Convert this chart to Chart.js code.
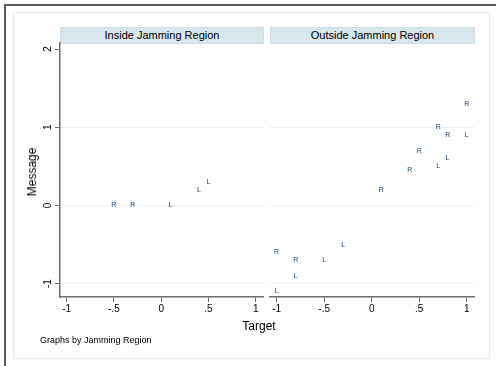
<!DOCTYPE html>
<html>
<head>
<meta charset="utf-8">
<script src="https://cdn.jsdelivr.net/npm/chart.js@4.4.1/dist/chart.umd.min.js"></script>
<style>
  html, body { margin: 0; padding: 0; background: #fff; }
  #wrap { position: relative; width: 496px; height: 366px; overflow: hidden; background: #fff; font-family: "Liberation Sans", Arial, sans-serif; }
  canvas { position: absolute; left: 0; top: 0; }
  .abs { position: absolute; white-space: nowrap; color: #000; }
  #outer { position: absolute; left: 4px; top: 4px; width: 600px; height: 600px; border-left: 2px solid #5a5a5a; border-top: 2px solid #5a5a5a; }
  #inner { position: absolute; left: 13px; top: 12px; width: 475px; height: 345px; border: 1px solid #e4eced; }
  .hdr { position: absolute; top: 27px; height: 15px; background: #d9e6ec; border: 1px solid #cfdee5; font-size: 11px; line-height: 15px; text-align: center; color: #000; }
</style>
</head>
<body>
<div id="wrap">
  <div id="outer"></div>
  <div id="inner"></div>
  <div class="hdr" style="left:60px;width:202px;">Inside Jamming Region</div>
  <div class="hdr" style="left:270px;width:203px;">Outside Jamming Region</div>
  <canvas id="c1" width="496" height="366"></canvas>
  <canvas id="c2" width="496" height="366"></canvas>
  <div class="abs" id="ytitle" style="left:32px;top:172px;font-size:12px;line-height:12px;transform:translate(-50%,-50%) rotate(-90deg);">Message</div>
  <div class="abs" style="left:259px;top:326px;font-size:12px;line-height:12px;transform:translate(-50%,-50%);">Target</div>
  <div class="abs" style="left:40px;top:334px;font-size:9px;line-height:12px;">Graphs by Jamming Region</div>
</div>
<script>
// ---- data ----
const panelTitles = ["Inside Jamming Region", "Outside Jamming Region"];
const insideX = [-0.5, -0.3, 0.1, 0.4, 0.5];
const insideY = [0, 0, 0, 0.2, 0.3];
const insideLabels = ["R", "R", "L", "L", "L"];
const outsideX = [1.0, 0.7, 0.8, 1.0, 0.5, 0.8, 0.7, 0.4, 0.1, -0.3, -1.0, -0.8, -0.5, -0.8, -1.0];
const outsideY = [1.3, 1.0, 0.9, 0.9, 0.7, 0.6, 0.5, 0.45, 0.2, -0.5, -0.6, -0.7, -0.7, -0.9, -1.1];
const outsideLabels = ["R", "R", "R", "L", "R", "L", "L", "R", "R", "L", "R", "R", "L", "L", "L"];
const xTickValues = [-1, -0.5, 0, 0.5, 1];
const xTickLabels = ["-1", "-.5", "0", ".5", "1"];
const yTickValues = [-1, 0, 1, 2];
const yTickLabels = ["-1", "0", "1", "2"];
const gridValues = [-1, 0, 1];

const FONT = '"Liberation Sans", Arial, sans-serif';
const MARK = '#1a476f';

function pts(xs, ys) { return xs.map((x, i) => ({ x: x, y: ys[i] })); }

const markerLabels = {
  id: 'markerLabels',
  afterDatasetsDraw(chart) {
    const ctx = chart.ctx;
    const labels = chart.options.plugins.markerLabels.labels;
    const meta = chart.getDatasetMeta(0);
    ctx.save();
    ctx.fillStyle = MARK;
    ctx.font = '7px ' + FONT;
    ctx.textAlign = 'center';
    ctx.textBaseline = 'middle';
    meta.data.forEach((el, i) => { ctx.fillText(labels[i], el.x, el.y); });
    ctx.restore();
  }
};

const yTickText = {
  id: 'yTickText',
  afterDraw(chart) {
    if (!chart.options.plugins.yTickText.show) return;
    const ctx = chart.ctx;
    const ys = chart.scales.y;
    ctx.save();
    ctx.fillStyle = '#000';
    ctx.font = '10px ' + FONT;
    ctx.textAlign = 'center';
    ctx.textBaseline = 'middle';
    yTickValues.forEach((v, i) => {
      const py = ys.getPixelForValue(v);
      ctx.save();
      ctx.translate(48, py);
      ctx.rotate(-Math.PI / 2);
      ctx.fillText(yTickLabels[i], 0, 0);
      ctx.restore();
    });
    ctx.restore();
  }
};

function makeChart(id, data, labels, left, right, showY) {
  return new Chart(document.getElementById(id), {
    type: 'scatter',
    data: { datasets: [{ data: data, pointRadius: 0, pointHoverRadius: 0, showLine: false }] },
    options: {
      responsive: false,
      animation: false,
      events: [],
      layout: { padding: { left: left, right: right, top: 43, bottom: 39 } },
      plugins: {
        legend: { display: false },
        tooltip: { enabled: false },
        title: { display: false },
        markerLabels: { labels: labels },
        yTickText: { show: showY }
      },
      scales: {
        x: {
          type: 'linear',
          min: -1.07, max: 1.077,
          afterBuildTicks: s => { s.ticks = xTickValues.map(v => ({ value: v })); },
          afterFit: s => { s.height = 30; },
          ticks: {
            display: true,
            padding: 1,
            color: '#000',
            font: { family: FONT, size: 10 },
            maxRotation: 0, minRotation: 0,
            callback: (v) => { const i = xTickValues.indexOf(v); return i >= 0 ? xTickLabels[i] : ''; }
          },
          grid: { drawOnChartArea: false, drawTicks: true, tickLength: 5, tickColor: '#6a6a6a', tickWidth: 1 },
          border: { display: true, color: '#6e6e6e', width: 1.5 }
        },
        y: {
          type: 'linear',
          min: -1.17, max: 2.077,
          afterBuildTicks: s => { s.ticks = yTickValues.map(v => ({ value: v })); },
          ticks: { display: false },
          grid: {
            drawOnChartArea: true,
            drawTicks: showY,
            tickLength: 5,
            tickColor: '#6a6a6a',
            tickWidth: 1,
            lineWidth: 1,
            color: c => (gridValues.indexOf(c.tick && c.tick.value) >= 0 ? '#eaf1f2' : 'rgba(0,0,0,0)')
          },
          border: { display: showY, color: '#6e6e6e', width: 1.5 }
        }
      }
    },
    plugins: [markerLabels, yTickText]
  });
}

makeChart('c1', pts(insideX, insideY), insideLabels, 55, 233, true);
makeChart('c2', pts(outsideX, outsideY), outsideLabels, 270, 22, false);
</script>
</body>
</html>
